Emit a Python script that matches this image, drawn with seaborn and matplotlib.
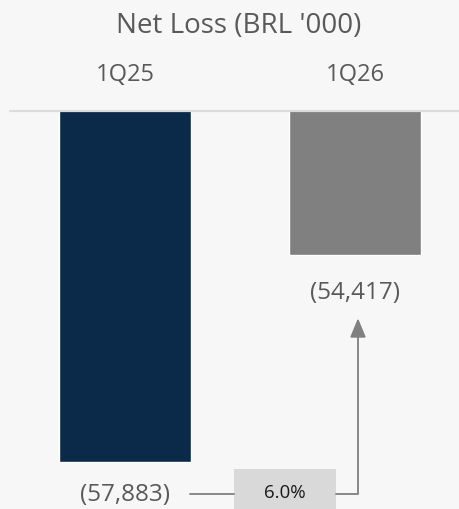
import matplotlib
matplotlib.use("Agg")
import matplotlib.pyplot as plt
import seaborn as sns
import pandas as pd
from matplotlib.patches import Rectangle

periods = ["1Q25", "1Q26"]
net_loss = [-57883, -54417]
value_labels = ["(57,883)", "(54,417)"]
bar_colors = ["#0b2a4a", "#808080"]
change_label = "6.0%"
title = "Net Loss (BRL '000)"

sns.set_theme(style="white")
plt.rcParams["font.family"] = ["Open Sans", "DejaVu Sans"]

W, H = 460, 509
fig = plt.figure(figsize=(W / 100, H / 100), dpi=100)
fig.patch.set_facecolor("#f7f7f7")

top_px = 111
ax = fig.add_axes([0, 0, 1, (H - top_px) / H])
ax.set_facecolor("#f7f7f7")

df = pd.DataFrame({"period": periods, "value": net_loss})
sns.barplot(data=df, x="period", y="value", hue="period", palette=bar_colors,
            width=0.574, legend=False, ax=ax, saturation=1)

ax.set_xlim(-125 / 230, 1 + 105 / 230)
ax.set_ylim(-58670, -52006)
ax.axis("off")

# baseline line
fig.add_artist(plt.Line2D([10 / W, 1], [1 - 110.5 / H] * 2, color="#dcdcdc", lw=1.6))

# title and category labels
fig.text(239 / W, 1 - 26 / H, title, ha="center", va="center", fontsize=20, color="#595959")
for i, p in enumerate(periods):
    x_px = 125 + 230 * i
    fig.text(x_px / W, 1 - 75 / H, p, ha="center", va="center", fontsize=17, color="#595959")

# value labels
offsets = [-33, -38]
for i, (v, lab) in enumerate(zip(net_loss, value_labels)):
    ax.annotate(lab, xy=(i, v), xytext=(0, offsets[i]), textcoords="offset pixels",
                ha="center", va="center", fontsize=17.5, color="#595959")

# change annotation
def fx(px):
    return px / W
def fy(py):
    return 1 - py / H

line_c = "#808080"
fig.add_artist(plt.Line2D([fx(190), fx(234)], [fy(494), fy(494)], color=line_c, lw=1.3))
fig.add_artist(plt.Line2D([fx(336), fx(358), fx(358)], [fy(494), fy(494), fy(336)], color=line_c, lw=1.3))
fig.add_artist(plt.Polygon([[fx(351), fy(337)], [fx(365), fy(337)], [fx(358), fy(320)]],
                           closed=True, color=line_c, transform=fig.transFigure))
fig.add_artist(Rectangle((fx(234), fy(512)), (336 - 234) / W, (512 - 469) / H,
                         facecolor="#d9d9d9", edgecolor="none", transform=fig.transFigure))
fig.text(fx(285), fy(493), change_label, ha="center", va="center", fontsize=13.5, color="#1a1a1a")

fig.savefig("out.png", dpi=100, facecolor=fig.get_facecolor())
